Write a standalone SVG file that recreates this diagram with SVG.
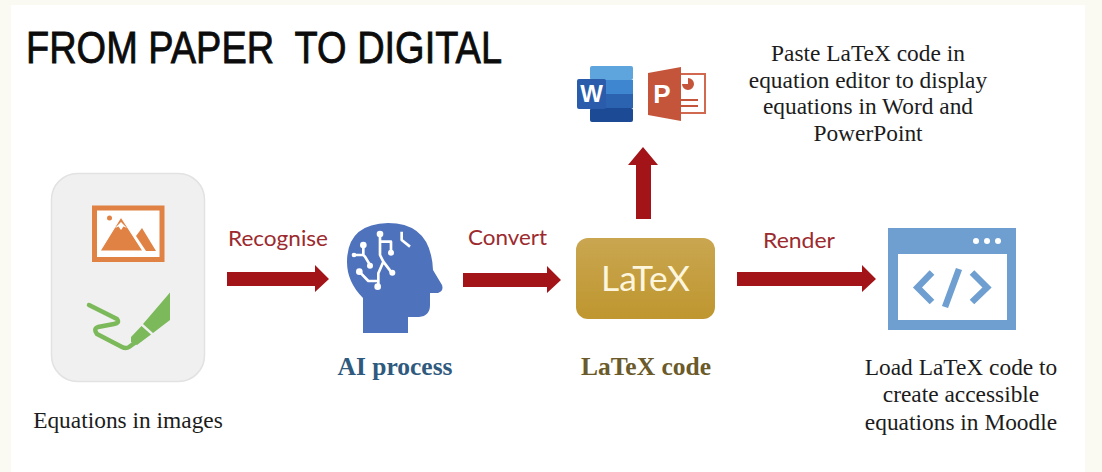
<svg xmlns="http://www.w3.org/2000/svg" width="1102" height="472" viewBox="0 0 1102 472">
<style>
.s{font-family:"Liberation Serif","Times New Roman",serif;fill:#1c1c1c;font-size:23.400px;text-anchor:middle}
.b{font-family:"Liberation Serif","Times New Roman",serif;font-weight:700;font-size:25.500px;text-anchor:middle}
.r{font-family:Lato,"Liberation Sans",sans-serif;fill:#9c2a2e;font-size:21px}
.a{fill:#a31419}
.c{fill:none;stroke:#fff;stroke-width:8;stroke-linejoin:round}
</style>
<defs><linearGradient id="g" x1="0" y1="0" x2="0" y2="1"><stop offset="0" stop-color="#c9a650"/><stop offset="1" stop-color="#bf962f"/></linearGradient></defs>
<rect width="1102" height="472" fill="#fbfaf2"/>
<rect x="11" y="5" width="1074" height="467" fill="#fff"/>
<text x="26" y="63" font-family="'Liberation Sans',Arial,sans-serif" font-size="44" fill="#0c0c0c" stroke="#0c0c0c" stroke-width=".8" textLength="476" lengthAdjust="spacingAndGlyphs" xml:space="preserve">FROM PAPER  TO DIGITAL</text>

<g id="images">
<rect x="51.500" y="173.500" width="153" height="208" rx="26" fill="#f0f0f0" stroke="#e2e2e2" stroke-width="1.500"/>
<rect x="94.500" y="208" width="67.500" height="51.500" fill="#fff" stroke="#e08243" stroke-width="5"/>
<path d="M142 228 L156 251 H146 L136 236Z" fill="#e08243"/>
<path d="M100 251 L121 217 L143 251Z" fill="#e08243" stroke="#fff" stroke-width="1.200"/>
<path d="M115 228 L121 222 L127 228 L123.500 226.500 L121 230 L118.500 226.500Z" fill="#fff"/>
<circle cx="109.500" cy="218" r="2.500" fill="#e08243"/>
<path d="M170 292.500 V320 L153 333 L143 324Z M141.500 326 L151 334.500 L137 345 L131 342 L131 337Z" fill="#7cb95a"/>
<path d="M89 305 L117 319 Q120 323 114 324 L98 327 Q93 329 97 334 L122 347 Q126 349 129 347 L136 342" fill="none" stroke="#7cb95a" stroke-width="4.500" stroke-linecap="round" stroke-linejoin="round"/>
<text class="s" x="128" y="428">Equations in images</text>
</g>

<g id="ai-process">
<path d="M363 333 H408 V317 H419 Q430 316 430 305 V293 H438 Q444 291 442 285 L433 270 Q431 223 388 223 Q347 224 347 262 Q347 282 363 298Z" fill="#4f72bd"/>
<g transform="translate(330 210) scale(.3333)">
<path class="c" d="M150 72 V135 L160 155 L185 188 M183 128 V95 H150 M160 155 L145 190 V230 M88 185 L115 213 H145 M100 105 V135 H72 M100 135 L105 140 L120 165 M215 65 V90 L240 110"/>
<g fill="#fff"><circle cx="150" cy="72" r="10"/><circle cx="183" cy="128" r="9"/><circle cx="187" cy="188" r="9"/><circle cx="143" cy="230" r="10"/><circle cx="88" cy="185" r="10"/><circle cx="100" cy="105" r="10"/><circle cx="72" cy="135" r="7"/><circle cx="120" cy="167" r="9"/></g>
</g>
<text class="b" x="395" y="375" fill="#2f5a7e">AI process</text>
</g>

<g id="latex">
<rect x="576" y="238" width="139" height="81" rx="12" fill="url(#g)"/>
<text x="645.500" y="291" font-family="Lato,'Liberation Sans',sans-serif" font-size="34" fill="#fdf6dc" text-anchor="middle" textLength="89" lengthAdjust="spacingAndGlyphs">LaTeX</text>
<text class="b" x="646" y="375" fill="#6b5a2a">LaTeX code</text>
</g>

<g id="word">
<rect x="590" y="66" width="43" height="14" rx="2" fill="#5ea5de"/>
<rect x="590" y="80" width="43" height="14" fill="#3f86d0"/>
<rect x="590" y="94" width="43" height="14" fill="#2b63b0"/>
<rect x="590" y="108" width="43" height="14" rx="2" fill="#1d4a94"/>
<rect x="577" y="79" width="29" height="30" rx="2" fill="#2a5cab"/>
<text x="591.500" y="102" font-family="'Liberation Sans',Arial,sans-serif" font-weight="700" font-size="24" fill="#fff" text-anchor="middle">W</text>
</g>

<g id="powerpoint">
<rect x="680" y="74" width="25" height="39" fill="#fff" stroke="#d0694f" stroke-width="2"/>
<path d="M688 84 V78 A6 6 0 1 1 682 84Z" fill="#c4553a"/>
<path d="M680 100 H698 M680 106 H698" stroke="#c4553a" stroke-width="2"/>
<path d="M648 73 L681 67 V121 L648 115Z" fill="#c4553a"/>
<text x="662" y="103" font-family="'Liberation Sans',Arial,sans-serif" font-weight="700" font-size="26" fill="#fff" text-anchor="middle">P</text>
<text class="s" x="868" y="61">Paste LaTeX code in</text>
<text class="s" x="868" y="88">equation editor to display</text>
<text class="s" x="868" y="114">equations in Word and</text>
<text class="s" x="868" y="141">PowerPoint</text>
</g>

<g id="moodle">
<rect x="888" y="228" width="128" height="102" fill="#6f9fd0"/>
<rect x="898" y="254" width="109" height="66" fill="#fff"/>
<g fill="#fff"><circle cx="976" cy="241" r="3"/><circle cx="987" cy="241" r="3"/><circle cx="998" cy="241" r="3"/></g>
<path d="M932 272.500 L917.500 287.500 L932 302 M972 272.500 L987 287.500 L972 302 M959 269 L945 307" fill="none" stroke="#6f9fd0" stroke-width="6.500"/>
<text class="s" x="961" y="375">Load LaTeX code to</text>
<text class="s" x="961" y="402">create accessible</text>
<text class="s" x="961" y="430">equations in Moodle</text>
</g>

<g id="connectors">
<path class="a" d="M227 272 H315 V265 L329 279 L315 292 V286 H227Z"/>
<path class="a" d="M463 273 H547 V266 L561 280 L547 293 V287 H463Z"/>
<path class="a" d="M737 272 H862 V265 L876 279 L862 292 V286 H737Z"/>
<path class="a" d="M636 219 V165 H628 L643 147 L658 165 H651 V219Z"/>
<text class="r" x="228" y="246" textLength="100" lengthAdjust="spacingAndGlyphs">Recognise</text>
<text class="r" x="468" y="245" textLength="79" lengthAdjust="spacingAndGlyphs">Convert</text>
<text class="r" x="763" y="248" textLength="72" lengthAdjust="spacingAndGlyphs">Render</text>
</g>
</svg>
